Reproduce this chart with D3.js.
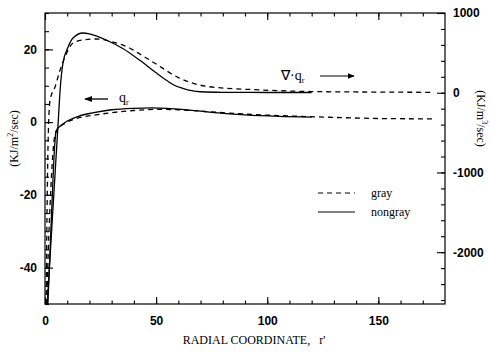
<!DOCTYPE html>
<html>
<head>
  <script src="https://d3js.org/d3.v7.min.js"></script>
  <style>
    body { margin: 0; background: #fff; }
    svg { display: block; }
  </style>
</head>
<body>
  <script>
    // ---- data ----
    // divergence of radiative flux (right axis, KJ/m^3/sec)
    const divNongrayR = [1, 2, 3, 4, 5, 6, 6.8, 8.1, 10.4, 12.6, 17, 20, 23, 28, 35, 43, 50, 55, 58, 62, 66, 70, 80, 100, 120];
    const divNongrayV = [-2650, -2190, -1720, -1260, -800, -340, 34, 373, 574, 686, 749, 738, 712, 655, 555, 400, 250, 150, 97, 55, 25, 12, 5, 3, 3];
    const divGrayR = [0.5, 1, 1.5, 2.3, 4.5, 6.8, 9, 12.6, 17, 23, 30.6, 38, 43, 50, 60, 74, 97, 120, 150, 175];
    const divGrayV = [-2650, -1300, -500, -90, 72, 285, 450, 624, 661, 674, 636, 561, 480, 360, 190, 75, 35, 15, 8, 5];

    // radiative flux (left axis, KJ/m^2/sec)
    const fluxNongrayR = [1.3, 2.3, 3.3, 4.2, 5, 7, 10, 15, 22, 30, 40, 48, 55, 65, 75, 90, 105, 120];
    const fluxNongrayV = [-50, -35, -20, -8, -2.4, -1.0, 0.3, 1.6, 2.6, 3.4, 3.8, 3.9, 3.8, 3.3, 2.7, 2.0, 1.6, 1.4];
    const fluxGrayR = [0.8, 1.5, 2.5, 3.5, 4.5, 6, 9, 14, 22, 30, 40, 50, 60, 75, 90, 110, 130, 150, 175];
    const fluxGrayV = [-50, -35, -20, -9, -3.5, -1.8, -0.3, 1.0, 1.9, 2.6, 3.2, 3.5, 3.4, 2.8, 2.2, 1.7, 1.3, 1.0, 0.9];

    const xTicks = [0, 50, 100, 150];
    const leftTicks = [20, 0, -20, -40];
    const rightTicks = [1000, 0, -1000, -2000];

    // ---- layout ----
    const W = 491, H = 356;
    const plot = { left: 45, right: 445, top: 13, bottom: 304 };

    const svg = d3.select("body").append("svg")
      .attr("width", W).attr("height", H);

    const x = d3.scaleLinear().domain([0, 180]).range([plot.left, plot.right]);
    const yL = d3.scaleLinear().domain([-50, 30]).range([plot.bottom, plot.top]);
    const yR = d3.scaleLinear().domain([-2650, 1000]).range([plot.bottom, plot.top]);

    const tickFont = "'Liberation Sans', Arial, sans-serif";
    const serif = "'Liberation Serif', 'Times New Roman', serif";
    const plain = d => String(d); // hyphen minus like the original

    // frame
    svg.append("rect")
      .attr("x", plot.left).attr("y", plot.top)
      .attr("width", plot.right - plot.left).attr("height", plot.bottom - plot.top)
      .attr("fill", "none").attr("stroke", "#000").attr("stroke-width", 1.2);

    function styleAxis(g) {
      g.select(".domain").remove();
      g.selectAll("line").attr("stroke", "#000").attr("stroke-width", 1.1);
      g.selectAll("text")
        .attr("fill", "#000")
        .style("font-family", tickFont)
        .style("font-weight", "bold")
        .style("font-size", "12px");
    }

    // bottom + top axes: minor then major, ticks pointing inward
    svg.append("g").attr("transform", `translate(0,${plot.bottom})`)
      .call(d3.axisBottom(x).tickValues(d3.range(0, 180, 10)).tickSize(-3.5).tickFormat(""))
      .call(styleAxis);
    svg.append("g").attr("transform", `translate(0,${plot.bottom})`)
      .call(d3.axisBottom(x).tickValues(xTicks).tickSize(-7).tickPadding(12).tickFormat(plain))
      .call(styleAxis);
    svg.append("g").attr("transform", `translate(0,${plot.top})`)
      .call(d3.axisTop(x).tickValues(d3.range(0, 180, 10)).tickSize(-3.5).tickFormat(""))
      .call(styleAxis);
    svg.append("g").attr("transform", `translate(0,${plot.top})`)
      .call(d3.axisTop(x).tickValues(xTicks).tickSize(-7).tickFormat(""))
      .call(styleAxis);

    // left axis
    svg.append("g").attr("transform", `translate(${plot.left},0)`)
      .call(d3.axisLeft(yL).tickValues(d3.range(-50, 31, 5)).tickSize(-4).tickFormat(""))
      .call(styleAxis);
    svg.append("g").attr("transform", `translate(${plot.left},0)`)
      .call(d3.axisLeft(yL).tickValues(leftTicks).tickSize(-8).tickPadding(8).tickFormat(plain))
      .call(styleAxis);

    // right axis
    svg.append("g").attr("transform", `translate(${plot.right},0)`)
      .call(d3.axisRight(yR).tickValues(d3.range(-2600, 1001, 200)).tickSize(-4).tickFormat(""))
      .call(styleAxis);
    svg.append("g").attr("transform", `translate(${plot.right},0)`)
      .call(d3.axisRight(yR).tickValues(rightTicks).tickSize(-8).tickPadding(8).tickFormat(plain))
      .call(styleAxis);

    // clip for curves
    svg.append("clipPath").attr("id", "clip")
      .append("rect")
      .attr("x", plot.left).attr("y", plot.top)
      .attr("width", plot.right - plot.left).attr("height", plot.bottom - plot.top);

    const curves = svg.append("g").attr("clip-path", "url(#clip)");

    function drawSeries(rs, vs, yScale, dashed) {
      const pts = rs.map((r, i) => [r, vs[i]]);
      const line = d3.line()
        .x(d => x(d[0]))
        .y(d => yScale(d[1]))
        .curve(d3.curveMonotoneX);
      curves.append("path")
        .datum(pts)
        .attr("d", line)
        .attr("fill", "none")
        .attr("stroke", "#000")
        .attr("stroke-width", 1.3)
        .attr("stroke-dasharray", dashed ? "5,4" : null);
    }

    drawSeries(divGrayR, divGrayV, yR, true);
    drawSeries(divNongrayR, divNongrayV, yR, false);
    drawSeries(fluxGrayR, fluxGrayV, yL, true);
    drawSeries(fluxNongrayR, fluxNongrayV, yL, false);

    // axis titles
    svg.append("text")
      .attr("transform", `translate(18,${(plot.top + plot.bottom) / 2 - 20}) rotate(-90)`)
      .attr("text-anchor", "middle")
      .style("font-family", serif).style("font-size", "12px")
      .html("(KJ/m<tspan dy='-5' font-size='8'>2</tspan><tspan dy='5'>/sec)</tspan>");

    svg.append("text")
      .attr("transform", `translate(477,${(plot.top + plot.bottom) / 2 - 40}) rotate(90)`)
      .attr("text-anchor", "middle")
      .style("font-family", serif).style("font-size", "12px")
      .html("(KJ/m<tspan dy='-5' font-size='8'>3</tspan><tspan dy='5'>/sec)</tspan>");

    svg.append("text")
      .attr("x", 254).attr("y", 344)
      .attr("text-anchor", "middle")
      .style("font-family", serif).style("font-size", "12px")
      .attr("xml:space", "preserve")
      .text("RADIAL COORDINATE,   r'");

    // arrow annotations
    svg.append("defs").append("marker")
      .attr("id", "arrow").attr("viewBox", "0 0 10 10")
      .attr("refX", 9).attr("refY", 5)
      .attr("markerWidth", 6).attr("markerHeight", 6)
      .attr("orient", "auto")
      .append("path").attr("d", "M0,1 L10,5 L0,9 Z").attr("fill", "#000");

    svg.append("line")
      .attr("x1", 108).attr("y1", 99).attr("x2", 85).attr("y2", 99)
      .attr("stroke", "#000").attr("stroke-width", 1.3).attr("marker-end", "url(#arrow)");
    svg.append("text")
      .attr("x", 119).attr("y", 102)
      .style("font-family", serif).style("font-size", "14px")
      .html("q<tspan dy='3' font-size='8'>r</tspan>");

    svg.append("text")
      .attr("x", 281).attr("y", 80)
      .style("font-family", serif).style("font-size", "14px")
      .html("∇·q<tspan dy='3' font-size='8'>r</tspan>");
    svg.append("line")
      .attr("x1", 320).attr("y1", 76).attr("x2", 354).attr("y2", 76)
      .attr("stroke", "#000").attr("stroke-width", 1.2).attr("marker-end", "url(#arrow)");

    // legend
    const legend = [{ name: "gray", dashed: true, y: 193 }, { name: "nongray", dashed: false, y: 212 }];
    legend.forEach(d => {
      svg.append("line")
        .attr("x1", 318).attr("x2", 355).attr("y1", d.y).attr("y2", d.y)
        .attr("stroke", "#000").attr("stroke-width", 1.2)
        .attr("stroke-dasharray", d.dashed ? "5,4" : null);
      svg.append("text")
        .attr("x", 371).attr("y", d.y + 4)
        .style("font-family", serif).style("font-size", "12px")
        .text(d.name);
    });
  </script>
</body>
</html>
